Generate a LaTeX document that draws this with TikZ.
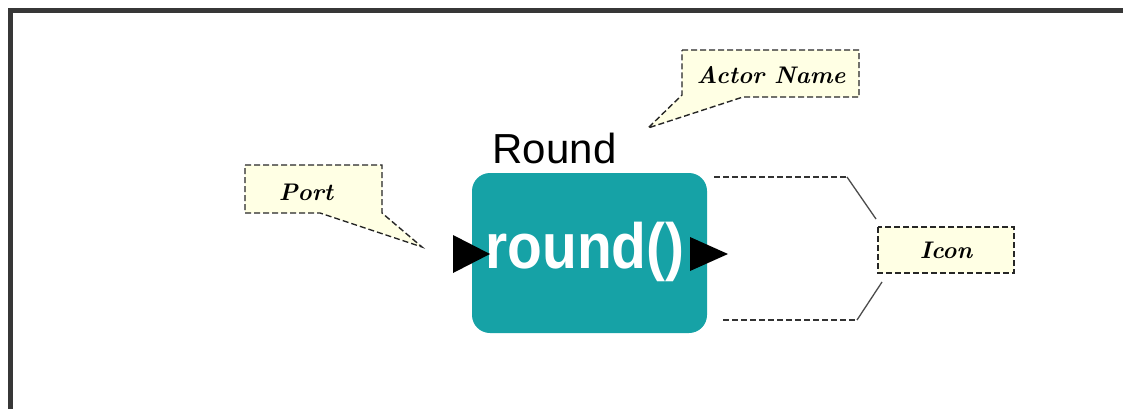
\documentclass[tikz,border=0pt]{standalone}
\usepackage{fontspec}
\newfontfamily\actorfont{Liberation Sans}
\usepackage{tikz}
\usetikzlibrary{positioning}

\definecolor{actorteal}{RGB}{22,162,166}
\definecolor{notefill}{RGB}{255,255,228}
\definecolor{framegray}{RGB}{55,55,55}

\begin{document}
\begin{tikzpicture}[x=1pt, y=-1pt,
  note/.style={draw=black!85, fill=notefill, line width=1.4pt, dash pattern=on 6pt off 3pt},
  notetext/.style={font=\fontsize{24}{24}\selectfont\bfseries\itshape, inner sep=0pt},
  guide/.style={draw=black!80, line width=1.4pt, dash pattern=on 6pt off 3pt},
  lead/.style={draw=black!70, line width=1.3pt}]
\useasboundingbox (0,0) rectangle (1123,408);
% frame, only top and left edges show
\draw[framegray, line width=5pt] (10,420) -- (10,10) -- (1140,10);

% the actor
\node[fill=actorteal, rounded corners=18pt, minimum width=235pt, minimum height=160pt, inner sep=0pt] (actor) at (589.5,253) {};
\node[text=white, font=\actorfont\bfseries\fontsize{64}{64}\selectfont, inner sep=0pt, anchor=base] (icontext) at (585,268) {\scalebox{0.89}[1]{round()}};
\node[font=\actorfont\fontsize{42}{42}\selectfont, inner sep=0pt, anchor=base] (name) at (554.5,163) {Round};
\fill (453,235) -- (490,254) -- (453,273) -- cycle;
\fill (690,237) -- (728,254) -- (690,271) -- cycle;

% callouts
\path[note] (245,165) -- (382,165) -- (382,213) -- (422,247) -- (320,213) -- (245,213) -- cycle;
\node[notetext] (port) at (306,192) {Port};
\path[note] (682,50) -- (859,50) -- (859,97) -- (743,97) -- (648,128) -- (682,95) -- cycle;
\node[notetext] (aname) at (771,75) {Actor Name};
\path[note] (878,227) rectangle (1014,273);
\node[notetext] (icon) at (946,250) {Icon};

% bracket round the icon
\coordinate (topend) at (847,177);
\coordinate (botend) at (857,320);
\draw[guide] (714,177) -- (topend);
\draw[lead] (topend) -- (876,219);
\draw[guide] (723,320) -- (botend);
\draw[lead] (botend) -- (882,282);
\end{tikzpicture}
\end{document}
